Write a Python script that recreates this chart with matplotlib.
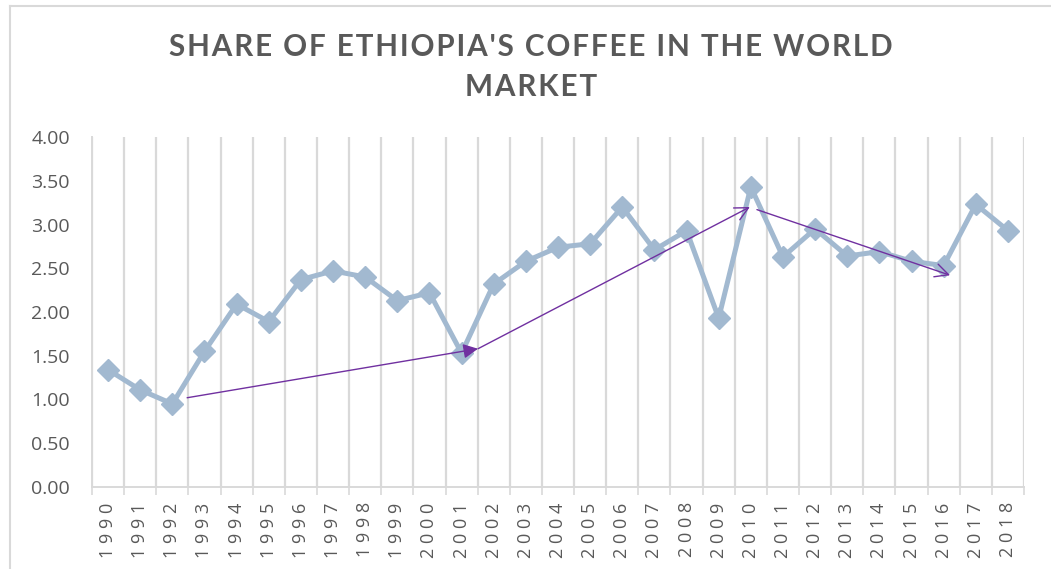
import numpy as np
import matplotlib
matplotlib.use("Agg")
import matplotlib.pyplot as plt
from matplotlib.lines import Line2D

years = [str(y) for y in range(1990, 2019)]
share = [1.34, 1.11, 0.95, 1.55, 2.09, 1.89, 2.37, 2.47, 2.40, 2.13,
         2.22, 1.53, 2.32, 2.58, 2.74, 2.78, 3.20, 2.71, 2.93, 1.93,
         3.43, 2.63, 2.95, 2.64, 2.69, 2.58, 2.53, 3.23, 2.93]

# trend arrows drawn over the series
arrow_from = [(2.46, 1.02), (11.51, 1.58), (20.19, 3.17)]
arrow_to = [(11.51, 1.58), (19.97, 3.20), (26.2, 2.42)]
arrow_style = ["-|>", "->", "->"]

TITLE_LINES = ["SHARE OF ETHIOPIA'S COFFEE IN THE WORLD", "MARKET"]
GREY = "#595959"
GRID = "#D9D9D9"
LINE = "#A2B9D0"
PURPLE = "#7030A0"
HAIR = "\u200a"
THIN = "\u2009"


def spaced(s, gap):
    return gap.join(s)


plt.rcParams["font.family"] = ["Open Sans", "DejaVu Sans"]

fig = plt.figure(figsize=(10.51, 5.69), dpi=100)
ax = fig.add_axes([92 / 1051, 82 / 569, 932 / 1051, 350 / 569])

x = np.arange(len(years))
ax.plot(x, share, color=LINE, lw=3.6, marker="D", markersize=11.5,
        markerfacecolor=LINE, markeredgecolor=LINE, zorder=3)

for (x0, y0), (x1, y1), st in zip(arrow_from, arrow_to, arrow_style):
    ax.annotate("", xy=(x1, y1), xytext=(x0, y0),
                arrowprops=dict(arrowstyle=st, color=PURPLE, lw=1.0,
                                mutation_scale=22 if st == "-|>" else 24,
                                shrinkA=0, shrinkB=0),
                zorder=4)

ax.set_xlim(-0.5, len(years) - 0.5)
ax.set_ylim(0, 4)
yt = np.arange(0, 4.01, 0.5)
ax.set_yticks(yt)
ax.set_yticklabels([f"{v:.2f}" for v in yt])
ax.set_xticks(x)
ax.set_xticklabels([spaced(y, THIN + HAIR) for y in years], rotation=90)
ax.set_xticks(np.arange(-0.5, len(years), 1.0), minor=True)

ax.tick_params(axis="y", length=0, pad=16, labelsize=14, labelcolor=GREY)
ax.tick_params(axis="x", which="major", length=0, pad=11, labelsize=13,
               labelcolor=GREY)
ax.tick_params(axis="x", which="minor", length=6, color=GRID, width=1.2)
ax.grid(axis="x", which="minor", color=GRID, lw=1.6)
ax.set_axisbelow(True)

for side in ["top", "right"]:
    ax.spines[side].set_visible(False)
for side in ["left", "bottom"]:
    ax.spines[side].set_color(GRID)
    ax.spines[side].set_linewidth(1.4)

title = "\n".join(spaced(line, HAIR) for line in TITLE_LINES)
fig.text(531 / 1051, 1 - 67 / 569, title, ha="center", va="center",
         fontsize=21.3, fontweight="bold", color=GREY, linespacing=1.5,
         family=["Lato", "DejaVu Sans"])

# chart frame
fig.add_artist(Line2D([10 / 1051, 10 / 1051], [0, 1 - 6 / 569],
                      transform=fig.transFigure, color=GRID, lw=1.5))
fig.add_artist(Line2D([10 / 1051, 1], [1 - 6 / 569, 1 - 6 / 569],
                      transform=fig.transFigure, color=GRID, lw=1.5))

fig.savefig("out.png", dpi=100)
